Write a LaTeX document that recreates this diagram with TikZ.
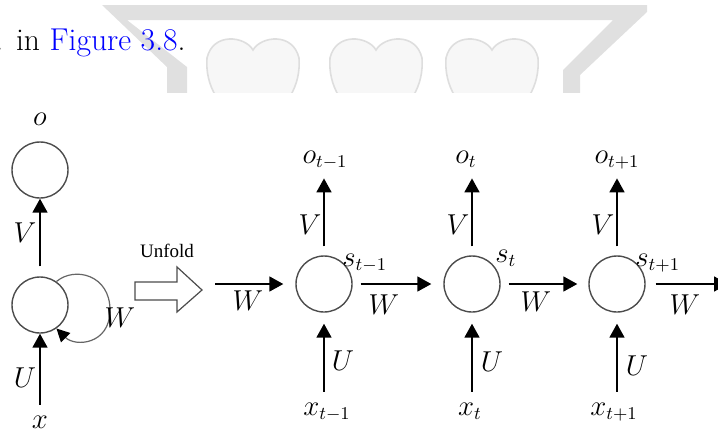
\documentclass[tikz,border=0pt]{standalone}
\usepackage{fontspec}
\usepackage{tikz}
\usetikzlibrary{arrows.meta}
\newfontfamily\unfoldfont{Liberation Serif}

\begin{document}
\begin{tikzpicture}[
	x=0.5pt, y=-0.5pt,
	every node/.style={font=\fontsize{13.5}{16}\selectfont},
	cell/.style={circle, draw=black!70, line width=0.7pt, minimum size=28pt, inner sep=0},
	top label/.style={anchor=base, inner sep=0, text depth=2pt},
	bottom label/.style={anchor=base, inner sep=0, text height=6.5pt},
	side label/.style={anchor=base west, inner sep=0},
	arr/.style={-{Triangle[length=7pt,width=7.5pt]}, line width=0.9pt},
	loop arr/.style={-{Triangle[length=6.5pt,width=6.5pt,color=black]}, draw=black!60, line width=0.6pt}
]
\useasboundingbox (0,0) rectangle (718,434);

% page behind the figure
\fill[black!12] (102,5) -- (647,5) -- (647,12) -- (580,75) -- (580,93) -- (563,93) -- (563,70) -- (613,20) -- (127,20) -- (187,67) -- (187,93) -- (167,93) -- (167,67) -- cycle;
\foreach \c in {253,376,492} {
	\draw[black!13, fill=black!3, line width=0.8pt] (\c,50) .. controls (\c-8,36) and (\c-40,32) .. (\c-46,58) .. controls (\c-48,85) and (\c-35,110) .. (\c,130) .. controls (\c+35,110) and (\c+48,85) .. (\c+46,58) .. controls (\c+40,32) and (\c+8,36) .. (\c,50) -- cycle;
}
\fill[white] (0,93) rectangle (718,434);
\node[anchor=base west, inner sep=0, font=\fontsize{15.8}{19}\selectfont] (ref) at (-5,50) {. in \textcolor{blue}{Figure 3.8}.};

% folded network
\node[cell] (ofold) at (40,170) {};
\node[cell] (hfold) at (40,305) {};
\node[anchor=base, inner sep=0] (olbl) at (40,125) {$o$};
\node[bottom label] (xfold) at (40,428) {$x$};
\draw[arr, shorten <=5pt] (hfold) -- (ofold);
\draw[arr, shorten <=5pt] (hfold |- xfold.north) -- (hfold);
\node (vfold) at (25,233) {$V$};
\node (ufold) at (25,378) {$U$};
\draw[loop arr] (hfold.55) .. controls (75,266) and (110,275) .. (110,310) .. controls (110,345) and (75,347) .. (hfold.-55);
\node (wfold) at (120,318) {$W$};

% unfold arrow
\node[font=\unfoldfont\fontsize{9.5}{11}\selectfont] (unfold) at (167,251) {Unfold};
\draw[black!70, line width=0.6pt] (135,282) -- (177,282) -- (177,267) -- (202,290) -- (177,312) -- (177,300) -- (135,300) -- cycle;

% unrolled network
\node[cell] (s1) at (324,284) {};
\node[cell] (s2) at (472,284) {};
\node[cell] (s3) at (617,284) {};
\node[top label] (o1) at (325,163) {$o_{t-1}$};
\node[top label] (o2) at (466,163) {$o_t$};
\node[top label] (o3) at (617,163) {$o_{t+1}$};
\node[bottom label] (x1) at (327,415) {$x_{t-1}$};
\node[bottom label] (x2) at (470,415) {$x_t$};
\node[bottom label] (x3) at (614,415) {$x_{t+1}$};
\node[side label] (sl1) at (342,266) {$s_{t-1}$};
\node[side label] (sl2) at (495,262) {$s_t$};
\node[side label] (sl3) at (635,266) {$s_{t+1}$};

\draw[arr, shorten <=4.5pt, shorten >=5.5pt] (s1) -- (s1 |- o1.south);
\draw[arr, shorten <=4.5pt, shorten >=5.5pt] (s2) -- (s2 |- o2.south);
\draw[arr, shorten <=4.5pt, shorten >=5.5pt] (s3) -- (s3 |- o3.south);
\draw[arr, shorten <=5pt, shorten >=5.5pt] (s1 |- x1.north) -- (s1);
\draw[arr, shorten <=5pt, shorten >=5.5pt] (s2 |- x2.north) -- (s2);
\draw[arr, shorten <=5pt, shorten >=5.5pt] (s3 |- x3.north) -- (s3);

\coordinate (in) at (215,284);
\coordinate (out) at (728,284);
\draw[arr, shorten >=6pt] (in) -- (s1);
\draw[arr, shorten <=4pt, shorten >=6pt] (s1) -- (s2);
\draw[arr, shorten <=4pt, shorten >=5.5pt] (s2) -- (s3);
\draw[arr, shorten <=5pt] (s3) -- (out);

\node (v1) at (310,225) {$V$};
\node (v2) at (458,225) {$V$};
\node (v3) at (603,225) {$V$};
\node (u1) at (343,361) {$U$};
\node (u2) at (492,362) {$U$};
\node (u3) at (637,366) {$U$};
\node (w0) at (248,301) {$W$};
\node (w1) at (384,305) {$W$};
\node (w2) at (536,302) {$W$};
\node (w3) at (685,305) {$W$};
\end{tikzpicture}
\end{document}
